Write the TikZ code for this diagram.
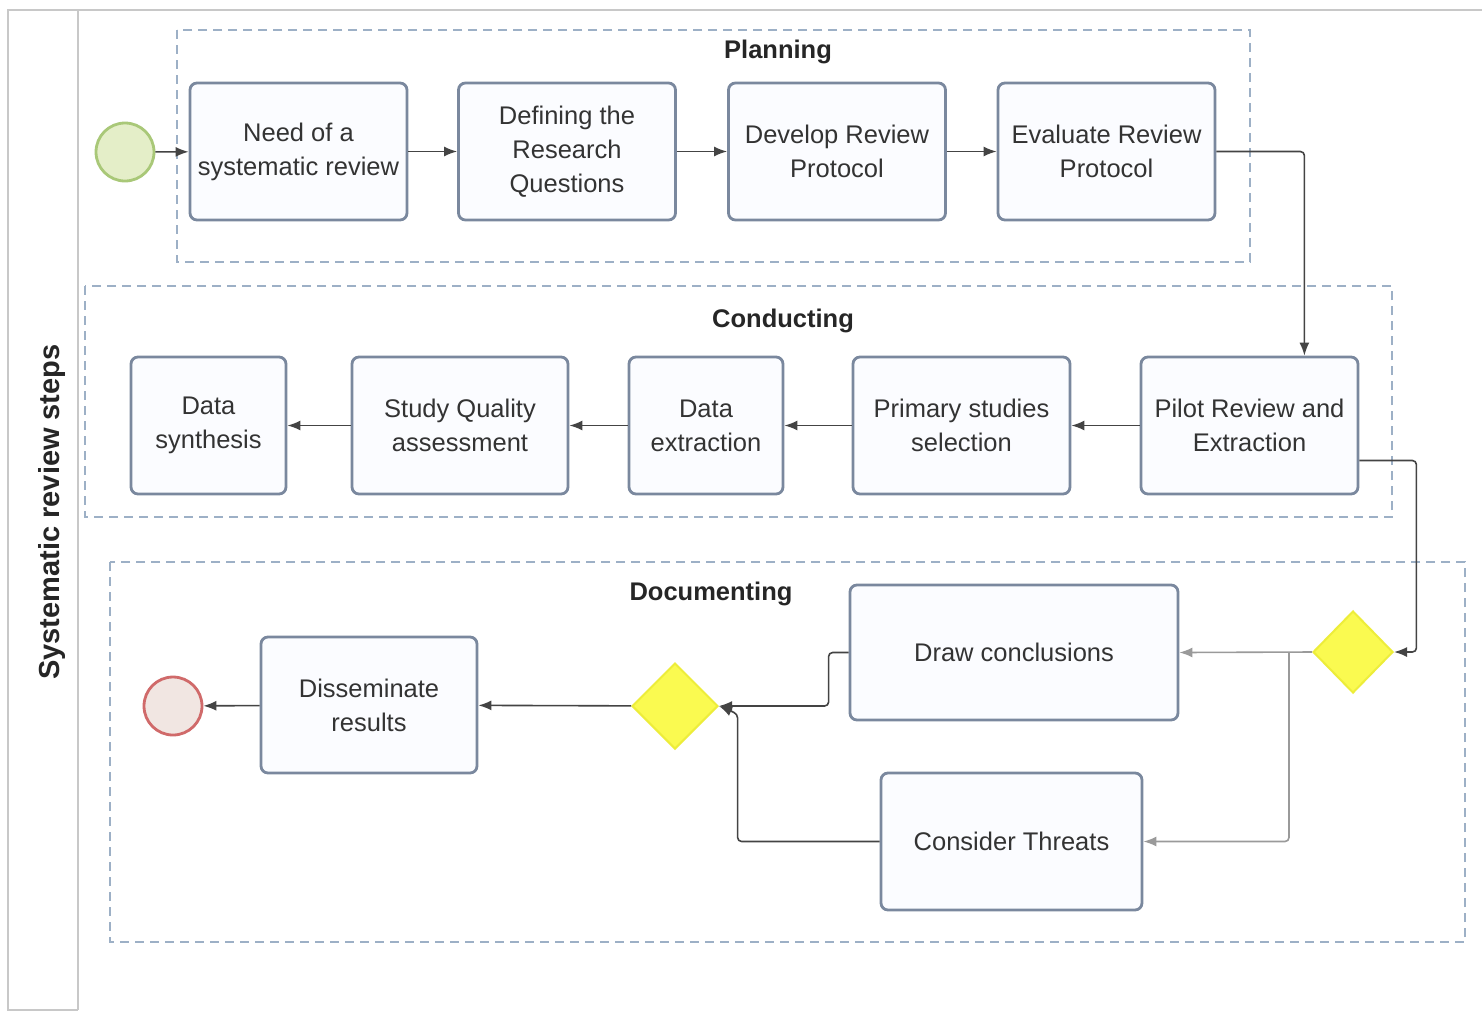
\documentclass[tikz,border=0pt]{standalone}
\usepackage{fontspec}
\setmainfont{Liberation Sans}
\usetikzlibrary{arrows.meta,shapes.geometric,calc}

\definecolor{boxline}{HTML}{7A889E}
\definecolor{boxfill}{HTML}{FBFCFF}
\definecolor{laneline}{HTML}{9DB0C6}
\definecolor{poolline}{HTML}{C8C8C8}
\definecolor{flow}{HTML}{444444}
\definecolor{flowlight}{HTML}{9A9A9A}
\definecolor{gatefill}{HTML}{FAFA50}
\definecolor{gateline}{HTML}{EDED3A}
\definecolor{startfill}{HTML}{E4EEC8}
\definecolor{startline}{HTML}{A9C878}
\definecolor{endfill}{HTML}{F1E6E2}
\definecolor{endline}{HTML}{D06A6A}

\tikzset{
  task/.style={draw=boxline, line width=2.8pt, fill=boxfill, rounded corners=7pt,
    inner sep=0pt, minimum height=137pt, align=center,
    font=\fontsize{25.5}{34}\selectfont, text=black!80},
  phase/.style={draw=laneline, line width=1.6pt, dash pattern=on 9pt off 6pt},
  phasetitle/.style={font=\fontsize{25.5}{30}\selectfont\bfseries, text=black!85},
  gateway/.style={diamond, draw=gateline, line width=2pt, fill=gatefill,
    inner sep=0pt, minimum width=82pt, minimum height=84pt},
  flowarrow/.style={draw=flow, line width=1.6pt, -{Latex[length=13pt,width=10pt]}},
  lightarrow/.style={draw=flowlight, line width=1.6pt, -{Latex[length=13pt,width=10pt]}},
}

\begin{document}
\begin{tikzpicture}[x=1pt,y=-1pt]
\useasboundingbox (0,0) rectangle (1482,1013);
\fill[white] (0,0) rectangle (1482,1013);

% pool and lane strip
\draw[poolline, line width=1.6pt] (1482,10) -- (8,10) -- (8,1010) -- (78,1010);
\draw[poolline, line width=1.6pt] (78,10) -- (78,1010);
\node[rotate=90, font=\fontsize{29}{34}\selectfont\bfseries, text=black!85] (lane) at (52,512) {Systematic review steps};

% phase containers
\draw[phase] (177,30) rectangle (1250,262);
\node[phasetitle] (tplan) at (778,52) {Planning};
\draw[phase] (85,286) rectangle (1392,517);
\node[phasetitle] (tcond) at (783,321) {Conducting};
\draw[phase] (110,562) rectangle (1465,942);
\node[phasetitle] (tdoc) at (711,594) {Documenting};

% events
\node[circle, draw=startline, line width=2.8pt, fill=startfill, minimum size=58pt, inner sep=0pt] (start) at (125,152) {};
\node[circle, draw=endline, line width=2.8pt, fill=endfill, minimum size=58pt, inner sep=0pt] (stop) at (173,706) {};

% planning tasks
\node[task, minimum width=217pt] (need) at (298.5,151.5) {Need of a\\systematic review};
\node[task, minimum width=217pt] (rq) at (567,151.5) {Defining the\\Research\\Questions};
\node[task, minimum width=217pt] (dev) at (837,151.5) {Develop Review\\Protocol};
\node[task, minimum width=217pt] (eval) at (1106.5,151.5) {Evaluate Review\\Protocol};

% conducting tasks
\node[task, minimum width=155pt] (synth) at (208.5,425.5) {Data\\synthesis};
\node[task, minimum width=216pt] (qual) at (460,425.5) {Study Quality\\assessment};
\node[task, minimum width=154pt] (extr) at (706,425.5) {Data\\extraction};
\node[task, minimum width=217pt] (prim) at (961.5,425.5) {Primary studies\\selection};
\node[task, minimum width=217pt] (pilot) at (1249.5,425.5) {Pilot Review and\\Extraction};

% documenting tasks and gateways
\node[task, minimum width=328pt, minimum height=135pt] (concl) at (1014,652.5) {Draw conclusions};
\node[task, minimum width=261pt] (threat) at (1011.5,841.5) {Consider Threats};
\node[task, minimum width=216pt, minimum height=136pt] (dissem) at (369,705) {Disseminate\\results};
\node[gateway, minimum width=80pt, minimum height=82pt] (split) at (1353,652) {};
\node[gateway, minimum width=86pt, minimum height=86pt] (join) at (675,706) {};

% sequence flows
\draw[flowarrow] (start) -- (need);
\draw[flowarrow] (need) -- (rq);
\draw[flowarrow] (rq) -- (dev);
\draw[flowarrow] (dev) -- (eval);
\draw[flowarrow, rounded corners=4pt] (eval.east) -- ++(88,0) coordinate (bendA) -- (bendA |- pilot.north);
\draw[flowarrow] (pilot) -- (prim);
\draw[flowarrow] (prim) -- (extr);
\draw[flowarrow] (extr) -- (qual);
\draw[flowarrow] (qual) -- (synth);
\draw[flowarrow, rounded corners=4pt] ($(pilot.east)+(0,35)$) -- ++(57,0) coordinate (bendB) -- (bendB |- split.east) -- (split.east);
\draw[lightarrow] (split.west) -- (concl.east);
\coordinate (fork) at ($(split.west)+(-23,0)$);
\draw[lightarrow, rounded corners=4pt] (fork) -- (fork |- threat.east) -- (threat.east);
\draw[flowarrow, rounded corners=4pt] (concl.west) -- ++(-20,0) coordinate (bendC) -- (bendC |- join.east) -- (join.east);
\draw[flowarrow, rounded corners=4pt] (threat.west) -- ++(-142,0) coordinate (bendD) -- ($(bendD |- join.east)+(0,8)$) -- (join.east);
\draw[flowarrow] (join) -- (dissem);
\draw[flowarrow] (dissem) -- (stop);
\end{tikzpicture}
\end{document}
